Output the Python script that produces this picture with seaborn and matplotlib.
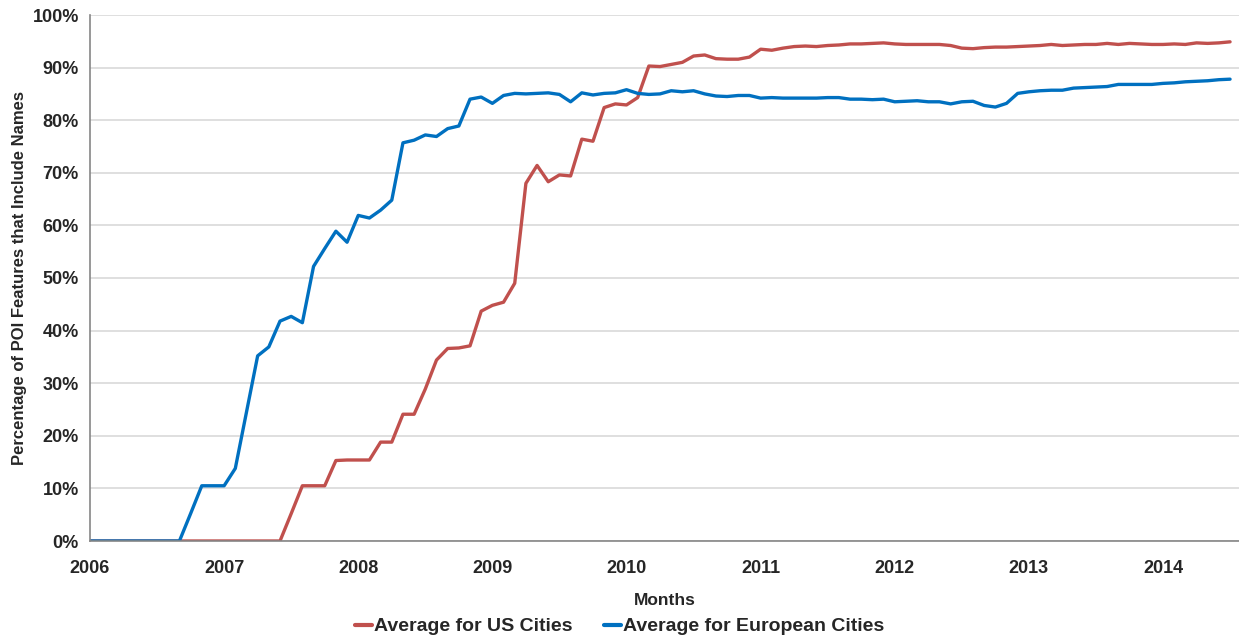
import numpy as np
import pandas as pd
import seaborn as sns
import matplotlib.pyplot as plt
from matplotlib.ticker import MultipleLocator, FixedLocator, PercentFormatter

# monthly values, Jan 2006 .. Jul 2014 (percent)
us_cities = [
    0, 0, 0, 0, 0, 0, 0, 0, 0, 0, 0, 0,
    0, 0, 0, 0, 0, 0, 5.2, 10.5, 10.5, 10.5, 15.3, 15.4,
    15.4, 15.4, 18.8, 18.8, 24.1, 24.1, 28.9, 34.4, 36.6, 36.7, 37.1, 43.7,
    44.8, 45.4, 49.0, 68.0, 71.4, 68.3, 69.6, 69.4, 76.4, 76.0, 82.4, 83.1,
    82.9, 84.3, 90.3, 90.2, 90.6, 91.0, 92.2, 92.4, 91.7, 91.6, 91.6, 92.0,
    93.5, 93.3, 93.7, 94.0, 94.1, 94.0, 94.2, 94.3, 94.5, 94.5, 94.6, 94.7,
    94.5, 94.4, 94.4, 94.4, 94.4, 94.2, 93.7, 93.6, 93.8, 93.9, 93.9, 94.0,
    94.1, 94.2, 94.4, 94.2, 94.3, 94.4, 94.4, 94.6, 94.4, 94.6, 94.5, 94.4,
    94.4, 94.5, 94.4, 94.7, 94.6, 94.7, 94.9,
]
eu_cities = [
    0, 0, 0, 0, 0, 0, 0, 0, 0, 5.2, 10.5, 10.5,
    10.5, 13.8, 24.5, 35.2, 36.9, 41.8, 42.7, 41.5, 52.2, 55.6, 58.9, 56.8,
    61.9, 61.4, 62.9, 64.8, 75.7, 76.2, 77.2, 76.9, 78.4, 78.9, 84.0, 84.4,
    83.2, 84.7, 85.1, 85.0, 85.1, 85.2, 84.9, 83.5, 85.2, 84.8, 85.1, 85.2,
    85.8, 85.1, 84.9, 85.0, 85.6, 85.4, 85.6, 85.0, 84.6, 84.5, 84.7, 84.7,
    84.2, 84.3, 84.2, 84.2, 84.2, 84.2, 84.3, 84.3, 84.0, 84.0, 83.9, 84.0,
    83.5, 83.6, 83.7, 83.5, 83.5, 83.1, 83.5, 83.6, 82.8, 82.5, 83.2, 85.1,
    85.4, 85.6, 85.7, 85.7, 86.1, 86.2, 86.3, 86.4, 86.8, 86.8, 86.8, 86.8,
    87.0, 87.1, 87.3, 87.4, 87.5, 87.7, 87.8,
]
year_labels = ['2006', '2007', '2008', '2009', '2010', '2011', '2012', '2013', '2014']
series_names = ['Average for US Cities', 'Average for European Cities']

months = np.arange(len(us_cities))
df = pd.DataFrame({
    'month': np.concatenate([months, months]),
    'value': us_cities + eu_cities,
    'series': [series_names[0]] * len(months) + [series_names[1]] * len(months),
})

sns.set_style('white')
plt.rcParams['font.family'] = ['Liberation Sans Narrow', 'Liberation Sans', 'DejaVu Sans']
plt.rcParams['font.weight'] = 'bold'

fig = plt.figure(figsize=(12.39, 6.37), dpi=100)
ax = fig.add_axes([90 / 1239, 1 - 541 / 637, 1149 / 1239, 526 / 637])

sns.lineplot(data=df, x='month', y='value', hue='series',
             palette=['#C0504D', '#0070C0'], linewidth=2.4, ax=ax, legend=False)

ax.set_ylim(0, 100)
ax.set_xlim(0, len(months) - 0.2)
ax.yaxis.set_major_locator(MultipleLocator(10))
ax.yaxis.set_major_formatter(PercentFormatter(decimals=0))
ax.xaxis.set_major_locator(FixedLocator(np.arange(0, len(months), 12)))
ax.set_xticklabels(year_labels)
ax.xaxis.set_minor_locator(MultipleLocator(1))
ax.grid(axis='y', color='#d9d9d9', linewidth=1.2)
ax.set_axisbelow(True)

for side in ['top', 'right']:
    ax.spines[side].set_visible(False)
for side in ['left', 'bottom']:
    ax.spines[side].set_color('#868686')
    ax.spines[side].set_linewidth(1.2)

ax.tick_params(axis='both', which='both', direction='out', color='#868686',
               length=5, width=1)
ax.tick_params(axis='y', labelsize=13, pad=3)
ax.tick_params(axis='x', labelsize=13, pad=9)
for lab in ax.get_xticklabels() + ax.get_yticklabels():
    lab.set_fontweight('bold')

ax.set_xlabel('Months', fontsize=12.5, fontweight='bold', labelpad=11)
ax.set_ylabel('Percentage of POI Features that Include Names', fontsize=12,
              fontweight='bold', labelpad=4)

handles = [plt.Line2D([], [], color=c, linewidth=3) for c in ['#C0504D', '#0070C0']]
fig.legend(handles, series_names, loc='lower center', bbox_to_anchor=(0.5, -0.025),
           ncol=2, frameon=False, handlelength=0.9, handletextpad=0.1,
           columnspacing=1.6, prop={'size': 14, 'weight': 'bold'})

fig.savefig('out.png', dpi=100)
